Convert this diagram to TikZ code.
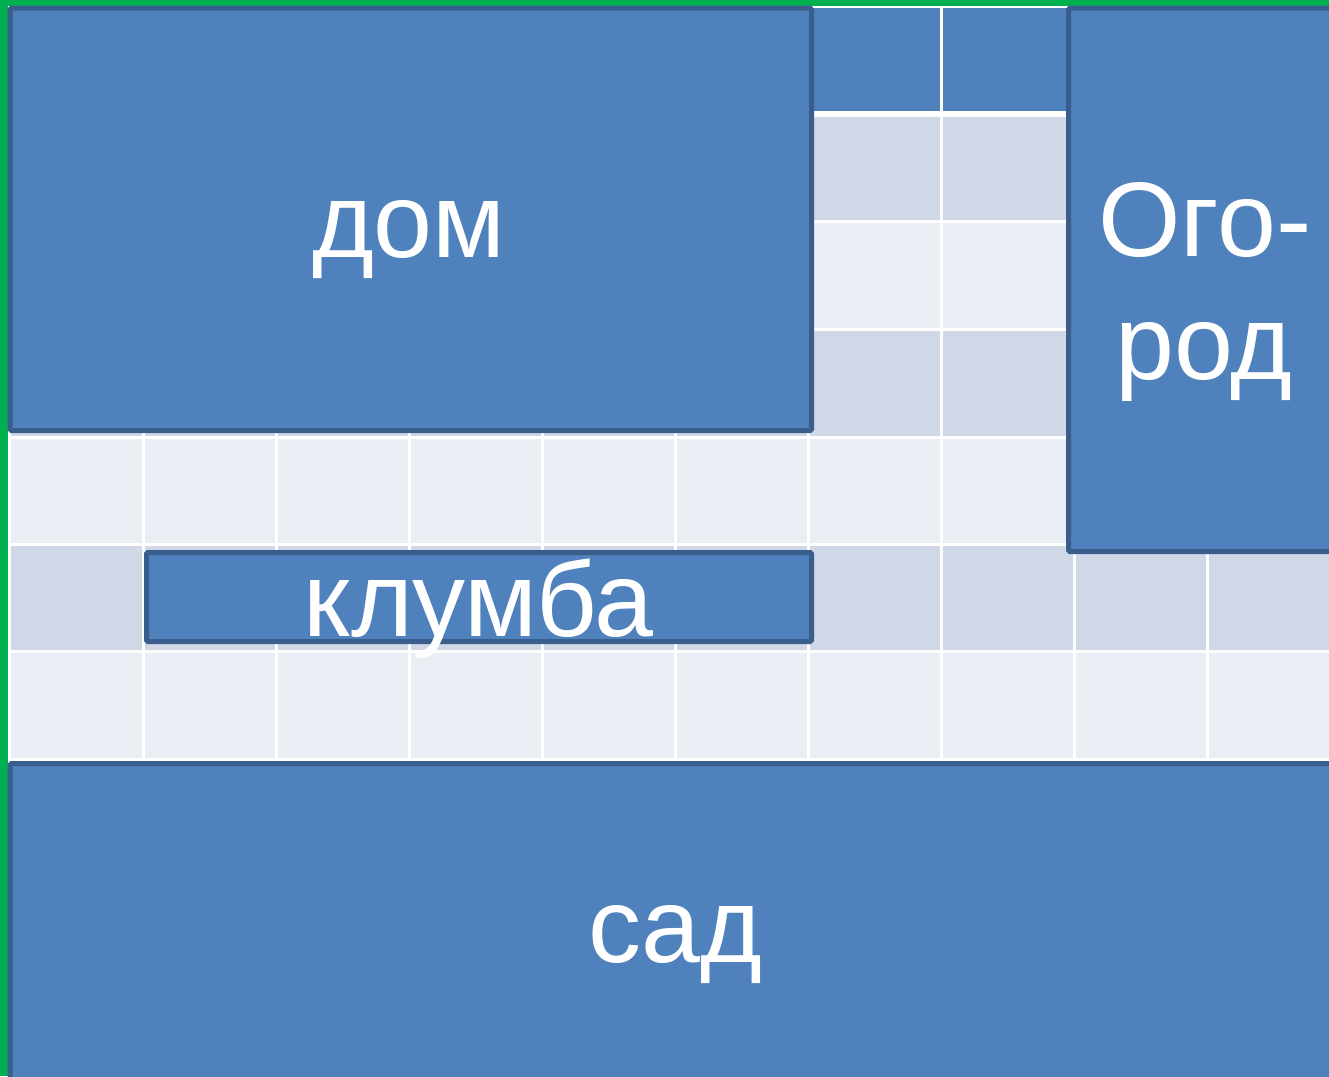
\documentclass[tikz,border=0pt]{standalone}
\usepackage{fontspec}
\setmainfont{Liberation Sans}
\definecolor{frame}{RGB}{0,176,80}
\definecolor{hdr}{RGB}{79,129,189}
\definecolor{rowA}{RGB}{208,216,232}
\definecolor{rowB}{RGB}{233,237,244}
\definecolor{boxfill}{RGB}{79,129,189}
\definecolor{boxline}{RGB}{58,94,139}
\tikzset{
  area/.style={fill=boxfill,draw=boxline,line width=5bp,rounded corners=1.5bp},
  lbl/.style={text=white,inner sep=0pt,anchor=base,font=\fontsize{106bp}{123bp}\selectfont},
  gridline/.style={draw=white,line width=3bp},
}
\begin{document}
\begin{tikzpicture}[x=1bp,y=-1bp]
\useasboundingbox (0,0) rectangle (1329,1076);
\fill[white] (0,0) rectangle (1329,1076);
% table rows
\fill[hdr]  (11,8)   rectangle (1340,114);
\fill[rowA] (11,114) rectangle (1340,221);
\fill[rowB] (11,221) rectangle (1340,329);
\fill[rowA] (11,329) rectangle (1340,437);
\fill[rowB] (11,437) rectangle (1340,544);
\fill[rowA] (11,544) rectangle (1340,651);
\fill[rowB] (11,651) rectangle (1340,759);
\fill[rowA] (11,759) rectangle (1340,1080);
% grid lines
\foreach \x in {143,276,409,542,675,808,941,1074,1207}
  \draw[gridline] (\x,8) -- (\x,1080);
\foreach \y in {221,329,437,544,651,759,866}
  \draw[gridline] (11,\y) -- (1340,\y);
\draw[draw=white,line width=6bp] (11,114) -- (1340,114);
% green frame
\fill[frame] (0,0) rectangle (1329,6);
\fill[frame] (0,0) rectangle (8,1076);
% areas
\path[area] (10,8) rectangle (811.5,430.5);
\path[area] (1068.5,8) rectangle (1340,551.5);
\path[area] (146.5,552.5) rectangle (811.5,641.5);
\path[area] (10,763.5) rectangle (1340,1090);
% labels
\node[lbl] (dom) at (409,257) {дом};
\node[lbl] (ogorodA) at (1205,256) {Ого-};
\node[lbl] (ogorodB) at (1204,379) {род};
\node[lbl] (klumba) at (478.5,636) {клумба};
\node[lbl] (sad) at (675,962) {сад};
\end{tikzpicture}
\end{document}
